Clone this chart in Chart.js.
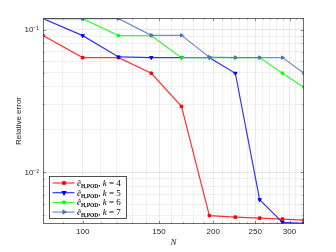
<!DOCTYPE html>
<html>
<head>
<meta charset="utf-8">
<script src="https://cdn.jsdelivr.net/npm/chart.js@4/dist/chart.umd.min.js"></script>
<style>
  html, body { margin: 0; padding: 0; background: #fff; }
  #wrap { width: 336px; height: 252px; }
</style>
</head>
<body>
<div id="wrap"><canvas id="chart" width="336" height="252"></canvas></div>
<script>
// N = 9^2 ... 18^2
const N = [81, 100, 121, 144, 169, 196, 225, 256, 289, 324];
const errK4 = [0.0908, 0.0637, 0.0637, 0.0495, 0.029, 0.00498, 0.00486, 0.00478, 0.00471, 0.00463];
const errK5 = [0.1195, 0.0908, 0.0644, 0.0637, 0.0637, 0.0637, 0.0495, 0.00644, 0.00447, 0.0044];
const errK6 = [0.1195, 0.1195, 0.0908, 0.0908, 0.0637, 0.0637, 0.0637, 0.0637, 0.0495, 0.0393];
const errK7 = [0.1195, 0.1195, 0.1195, 0.0913, 0.0913, 0.0642, 0.0637, 0.0637, 0.0637, 0.0495];
const kValues = [4, 5, 6, 7];

const xMajor = [100, 150, 200, 250, 300];
const xMinor = [90, 110, 120, 130, 140, 160, 170, 180, 190, 210, 220, 230, 240, 260, 270, 280, 290, 310, 320];
const yMajor = [0.01, 0.1];
const yMinor = [0.005, 0.006, 0.007, 0.008, 0.009, 0.02, 0.03, 0.04, 0.05, 0.06, 0.07, 0.08, 0.09];
const yLabels = { 0.01: '10\u207B\u00B2', 0.1: '10\u207B\u00B9' };

const colors = ['#ff0000', '#0000ff', '#00ff00', '#4f72c0'];
const lineColors = ['rgba(255,0,0,0.8)', 'rgba(0,0,255,0.8)', 'rgba(0,255,0,0.8)', 'rgba(79,114,192,0.8)'];
const markers = [
    { style: 'rect', rotation: 0, radius: 1.8 },
    { style: 'triangle', rotation: 180, radius: 2 },
    { style: 'star', rotation: 0, radius: 2 },
    { style: 'triangle', rotation: 90, radius: 2 }
];
const series = [errK4, errK5, errK6, errK7];

const datasets = series.map(function(vals, i) {
    return {
        label: 'k = ' + kValues[i],
        data: N.map((n, j) => ({ x: n, y: vals[j] })),
        borderColor: lineColors[i],
        backgroundColor: colors[i],
        pointBorderColor: colors[i],
        borderWidth: 1.2,
        pointStyle: markers[i].style,
        pointRotation: markers[i].rotation,
        pointRadius: markers[i].radius,
        pointBorderWidth: 1,
        tension: 0,
        order: 4 - i
    };
});

function setTicks(list) {
    return function(scale) {
        scale.ticks = list.slice().sort((a, b) => a - b).map(v => ({ value: v }));
    };
}

const boxPlugin = {
    id: 'matlabBox',
    afterDraw(chart) {
        const ctx = chart.ctx;
        const a = chart.chartArea;
        const xs = chart.scales.x, ys = chart.scales.y;
        ctx.save();
        // inner tick marks
        ctx.strokeStyle = '#404040';
        ctx.lineWidth = 0.6;
        ctx.beginPath();
        xs.ticks.forEach(function(t) {
            const px = Math.round(xs.getPixelForValue(t.value)) + 0.5;
            const len = xMajor.includes(t.value) ? 3 : 1.5;
            ctx.moveTo(px, a.bottom); ctx.lineTo(px, a.bottom - len);
            ctx.moveTo(px, a.top); ctx.lineTo(px, a.top + len);
        });
        ys.ticks.forEach(function(t) {
            const py = Math.round(ys.getPixelForValue(t.value)) + 0.5;
            const len = yMajor.includes(t.value) ? 3 : 1.5;
            ctx.moveTo(a.left, py); ctx.lineTo(a.left + len, py);
            ctx.moveTo(a.right, py); ctx.lineTo(a.right - len, py);
        });
        ctx.stroke();
        ctx.strokeStyle = '#4a4a4a';
        ctx.lineWidth = 0.8;
        ctx.strokeRect(a.left + 0.5, a.top + 0.5, a.right - a.left - 1, a.bottom - a.top - 1);

        // legend
        const lx = a.left + 6.5, lw = 77, lh = 42;
        const ly = a.bottom - 6 - lh + 0.5;
        ctx.fillStyle = '#fff';
        ctx.fillRect(lx, ly, lw, lh);
        ctx.strokeStyle = '#262626';
        ctx.lineWidth = 0.8;
        ctx.strokeRect(lx, ly, lw, lh);
        ctx.textBaseline = 'alphabetic';
        kValues.forEach(function(k, i) {
            const cy = ly + 6.5 + i * 9.7;
            ctx.strokeStyle = lineColors[i];
            ctx.lineWidth = 1.2;
            ctx.beginPath();
            ctx.moveTo(lx + 3, cy); ctx.lineTo(lx + 25, cy);
            ctx.stroke();
            ctx.fillStyle = colors[i];
            ctx.strokeStyle = colors[i];
            Chart.helpers.drawPoint(ctx, {
                pointStyle: markers[i].style,
                rotation: markers[i].rotation,
                radius: markers[i].radius,
                borderWidth: 1
            }, lx + 14.5, cy);

            let tx = lx + 27.5;
            const base = cy + 3;
            ctx.fillStyle = '#000';
            const parts = [
                { t: '\u1EBD', f: 'italic 9px "Liberation Serif"', dy: 0 },
                { t: 'H,POD', f: 'bold 5.5px "Liberation Serif"', dy: 1.8 },
                { t: ', ', f: '9px "Liberation Serif"', dy: 0 },
                { t: 'k', f: 'italic 9px "Liberation Serif"', dy: 0 },
                { t: ' = ' + k, f: '9px "Liberation Serif"', dy: 0 }
            ];
            parts.forEach(function(p) {
                ctx.font = p.f;
                ctx.fillText(p.t, tx, base + p.dy);
                tx += ctx.measureText(p.t).width;
            });
        });
        ctx.restore();
    }
};

new Chart(document.getElementById('chart'), {
    type: 'line',
    data: { datasets: datasets },
    plugins: [boxPlugin],
    options: {
        responsive: false,
        animation: false,
        layout: { padding: { top: 18, right: 32, left: 0, bottom: 0 } },
        plugins: {
            legend: { display: false },
            tooltip: { enabled: false }
        },
        scales: {
            x: {
                type: 'logarithmic',
                min: 81,
                max: 324,
                afterBuildTicks: setTicks(xMajor.concat(xMinor)),
                afterFit(scale) { scale.height = 28; },
                grid: {
                    drawTicks: false,
                    lineWidth: 0.6,
                    color: ctx => (ctx.tick && xMajor.includes(ctx.tick.value)) ? '#d9d9d9' : '#e6e6e6'
                },
                border: { display: false },
                ticks: {
                    autoSkip: false,
                    maxRotation: 0,
                    padding: 3,
                    color: '#262626',
                    font: { family: '"Liberation Sans", Arial, sans-serif', size: 8 },
                    callback: v => xMajor.includes(v) ? String(v) : ''
                },
                title: {
                    display: true,
                    text: 'N',
                    color: '#262626',
                    padding: { top: 0, bottom: 3.5 },
                    font: { family: '"Liberation Serif", serif', size: 9, style: 'italic' }
                }
            },
            y: {
                type: 'logarithmic',
                min: 0.00435,
                max: 0.1207,
                afterBuildTicks: setTicks(yMajor.concat(yMinor)),
                afterFit(scale) { scale.width = 43; },
                grid: {
                    drawTicks: false,
                    lineWidth: 0.6,
                    color: ctx => (ctx.tick && yMajor.includes(ctx.tick.value)) ? '#d9d9d9' : '#e6e6e6'
                },
                border: { display: false },
                ticks: {
                    autoSkip: false,
                    padding: 4,
                    color: '#262626',
                    font: { family: '"Liberation Sans", Arial, sans-serif', size: 8 },
                    callback: v => yLabels[v] || ''
                },
                title: {
                    display: true,
                    text: 'Relative error',
                    color: '#262626',
                    padding: { top: 14, bottom: 0 },
                    font: { family: '"Liberation Sans", Arial, sans-serif', size: 8 }
                }
            }
        }
    }
});
</script>
</body>
</html>
